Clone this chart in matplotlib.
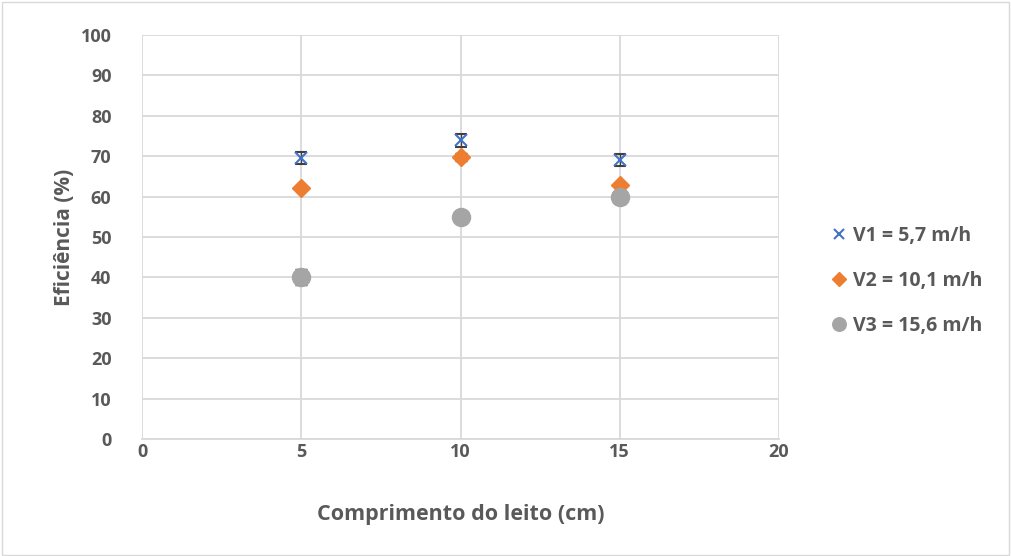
import matplotlib
matplotlib.use("Agg")
import matplotlib.pyplot as plt

plt.rcParams['font.family'] = ['Open Sans', 'DejaVu Sans']

comprimento = [5, 10, 15]
v1 = [69.6, 73.9, 69.1]
v2 = [62.1, 69.9, 62.9]
v3 = [40.0, 55.0, 59.9]
err1 = [1.5, 1.5, 1.5]
err2 = [0.5, 1.0, 0.5]
err3 = [2.0, 0.5, 0.5]
labels = ["V1 = 5,7 m/h", "V2 = 10,1 m/h", "V3 = 15,6 m/h"]

txt = '#595959'
grid = '#d9d9d9'

fig = plt.figure(figsize=(10.11, 5.56), dpi=100)
fig.patches.append(plt.Rectangle((0.002, 0.002), 0.996, 0.995, transform=fig.transFigure,
                                 fill=False, edgecolor='#d9d9d9', linewidth=1))
ax = fig.add_axes([142/1011, 1-439/556, (779-142)/1011, (439-35)/556])

ax.errorbar(comprimento, v1, yerr=err1, fmt='x', color='#4472C4', ms=9, mew=1.5,
            ecolor='#404040', elinewidth=1, capsize=4, label=labels[0], zorder=3)
ax.errorbar(comprimento, v2, yerr=err2, fmt='D', color='#ED7D31', ms=9,
            ecolor='#404040', elinewidth=1, capsize=4, label=labels[1], zorder=3)
ax.errorbar(comprimento, v3, yerr=err3, fmt='o', color='#A5A5A5', ms=13,
            ecolor='#404040', elinewidth=1, capsize=4, label=labels[2], zorder=3)

ax.set_xlim(0, 20)
ax.set_ylim(0, 100)
ax.set_xticks(range(0, 21, 5))
ax.set_yticks(range(0, 101, 10))
ax.grid(True, color=grid, linewidth=1.3)
ax.set_axisbelow(True)
for s in ['top', 'right', 'left']:
    ax.spines[s].set_visible(False)
ax.spines['bottom'].set_color(grid)
ax.spines['bottom'].set_linewidth(1.3)
ax.tick_params(length=0, labelsize=13, labelcolor=txt)
ax.tick_params(axis='y', pad=22)
ax.tick_params(axis='x', pad=3)
for lab in ax.get_xticklabels() + ax.get_yticklabels():
    lab.set_fontweight('bold')

ax.set_xlabel("Comprimento do leito (cm)", fontsize=15.5, fontweight='bold', color=txt, labelpad=31)
ax.set_ylabel("Eficiência (%)", fontsize=15, fontweight='bold', color=txt, labelpad=4)

handles, _ = ax.get_legend_handles_labels()
handles = [h[0] for h in handles]
leg = fig.legend(handles, labels, loc='center left', bbox_to_anchor=(812/1011, 1-281/556),
                 frameon=False, handletextpad=0.2, labelspacing=1.3, handlelength=1.0,
                 markerscale=0.75, prop={'weight': 'bold', 'size': 14})
for t in leg.get_texts():
    t.set_color(txt)

fig.savefig("out.png", dpi=100)
